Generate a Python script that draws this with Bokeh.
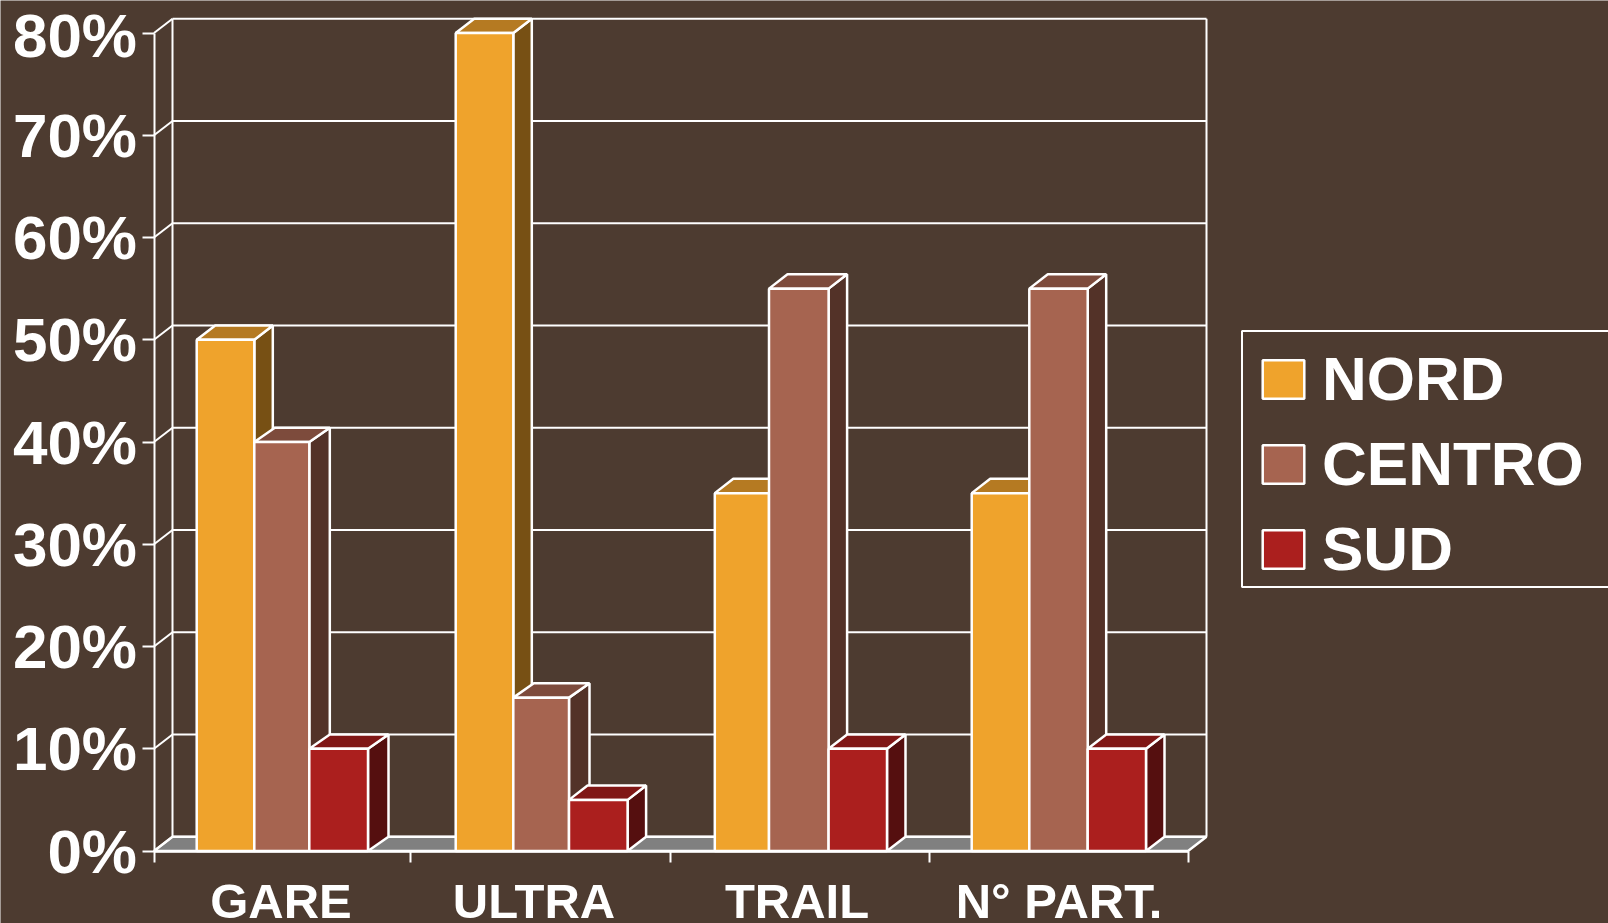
from bokeh.embed import file_html
from bokeh.models import ColumnDataSource, FixedTicker, Legend, LegendItem, Range1d
from bokeh.plotting import figure
from bokeh.resources import INLINE

# ---- data ----
CATEGORIES = ["GARE", "ULTRA", "TRAIL", "N° PART."]
SERIES = ["NORD", "CENTRO", "SUD"]
NORD = [50, 80, 35, 35]
CENTRO = [40, 15, 55, 55]
SUD = [10, 5, 10, 10]
Y_TICKS = [0, 10, 20, 30, 40, 50, 60, 70, 80]
Y_TICK_LABELS = ["0%", "10%", "20%", "30%", "40%", "50%", "60%", "70%", "80%"]

# ---- layout (x unit = one picture pixel) ----
W, H = 1608, 923
PAGE = 0.5
Y0_PX, PX_PER_PCT = 851.0, 10.225
LEFT, RIGHT = 154.0, 1188.0
DEPTH_X, DEPTH_Y = 18.5, 1.4
BAR_EDGES = [
    [196.7, 254.3, 309.3, 368.0],
    [455.7, 513.3, 569.0, 627.6],
    [714.8, 769.0, 828.6, 887.0],
    [971.7, 1029.3, 1087.7, 1146.0],
]
BAR_DEPTHS = [
    [18.5, 20.5, 20.5],
    [18.5, 20.5, 18.5],
    [18.5, 18.5, 18.5],
    [18.5, 18.5, 18.5],
]
LABEL_X = [281, 534, 797, 1059]
TICK_X = [154, 410, 670, 929, 1188]

BG = "#4D3B30"
WHITE = "#FFFFFF"
FONT = "Liberation Sans"
FRONT = ["#EFA32C", "#A66450", "#AB1F1E"]
TOP = ["#B57A22", "#7D4B3C", "#801716"]
SIDE = ["#775014", "#533228", "#550F0F"]
FLOOR = "#808080"

p = figure(
    width=W, height=H, output_backend="svg", toolbar_location=None,
    x_range=Range1d(PAGE, PAGE + W),
    y_range=Range1d((Y0_PX - PAGE - H) / PX_PER_PCT, (Y0_PX - PAGE) / PX_PER_PCT),
    min_border=0, background_fill_color=BG, border_fill_color=BG, outline_line_color=None,
)
p.grid.visible = False

# back wall, floor, grid
bx0, bx1 = LEFT + DEPTH_X, RIGHT + DEPTH_X
p.patch([LEFT, RIGHT, bx1, bx0], [0, 0, DEPTH_Y, DEPTH_Y], fill_color=FLOOR, line_color=WHITE, line_width=2.5)
top_back = max(Y_TICKS) + DEPTH_Y
p.multi_line(
    [[bx0, bx1] for _ in Y_TICKS] + [[LEFT, bx0] for _ in Y_TICKS] + [[bx0, bx0], [bx1, bx1]],
    [[v + DEPTH_Y, v + DEPTH_Y] for v in Y_TICKS] + [[v, v + DEPTH_Y] for v in Y_TICKS]
    + [[DEPTH_Y, top_back], [DEPTH_Y, top_back]],
    line_color=WHITE, line_width=2,
)

# bars
legend_items = []
for i, (name, values) in enumerate(zip(SERIES, [NORD, CENTRO, SUD])):
    groups = range(len(values))
    lefts = [BAR_EDGES[g][i] for g in groups]
    rights = [BAR_EDGES[g][i + 1] for g in groups]
    depths = [BAR_DEPTHS[g][i] for g in groups]
    p.patches(
        [[r, r + d, r + d, r] for r, d in zip(rights, depths)],
        [[0, DEPTH_Y, v + DEPTH_Y, v] for v in values],
        fill_color=SIDE[i], line_color=WHITE, line_width=2.5,
    )
    p.patches(
        [[l, l + d, r + d, r] for l, r, d in zip(lefts, rights, depths)],
        [[v, v + DEPTH_Y, v + DEPTH_Y, v] for v in values],
        fill_color=TOP[i], line_color=WHITE, line_width=2.5,
    )
    src = ColumnDataSource(dict(left=lefts, right=rights, bottom=[0] * len(values), top=values))
    r = p.quad(left="left", right="right", bottom="bottom", top="top", source=src,
               fill_color=FRONT[i], line_color=WHITE, line_width=2.5)
    legend_items.append(LegendItem(label=name, renderers=[r]))

# axes
xa = p.xaxis[0]
xa.fixed_location = 0
xa.bounds = (LEFT, RIGHT)
xa.ticker = FixedTicker(ticks=LABEL_X, minor_ticks=TICK_X)
xa.major_label_overrides = dict(zip(LABEL_X, CATEGORIES))
xa.major_tick_out = 0
xa.major_tick_in = 0
xa.minor_tick_out = 11
xa.minor_tick_in = 0
xa.minor_tick_line_color = WHITE
xa.minor_tick_line_width = 2
xa.axis_line_color = WHITE
xa.axis_line_width = 2.5
xa.major_label_text_color = WHITE
xa.major_label_text_font = FONT
xa.major_label_text_font_style = "bold"
xa.major_label_text_font_size = "49px"
xa.major_label_standoff = 12

ya = p.yaxis[0]
ya.fixed_location = LEFT
ya.bounds = (min(Y_TICKS), max(Y_TICKS))
ya.ticker = FixedTicker(ticks=Y_TICKS)
ya.major_label_overrides = dict(zip(Y_TICKS, Y_TICK_LABELS))
ya.major_tick_out = 12
ya.major_tick_in = 0
ya.minor_tick_out = 0
ya.minor_tick_in = 0
ya.major_tick_line_color = WHITE
ya.major_tick_line_width = 2
ya.axis_line_color = WHITE
ya.axis_line_width = 2
ya.major_label_text_color = WHITE
ya.major_label_text_font = FONT
ya.major_label_text_font_style = "bold"
ya.major_label_text_font_size = "62px"
ya.major_label_standoff = 5

# legend box (open at the picture edge) and legend
box_y0 = (Y0_PX - 587) / PX_PER_PCT
box_y1 = (Y0_PX - 331) / PX_PER_PCT
p.multi_line([[1700, 1242, 1242, 1700]], [[box_y1, box_y1, box_y0, box_y0]], line_color=WHITE, line_width=2)
legend = Legend(
    items=legend_items,
    location=(1257, 339),
    orientation="vertical",
    background_fill_alpha=0,
    border_line_color=None,
    padding=9,
    margin=0,
    spacing=14,
    glyph_width=52,
    glyph_height=48,
    label_standoff=13,
    label_text_color=WHITE,
    label_text_font=FONT,
    label_text_font_style="bold",
    label_text_font_size="62px",
)
p.add_layout(legend)

open("out.html", "w").write(file_html(p, INLINE))
